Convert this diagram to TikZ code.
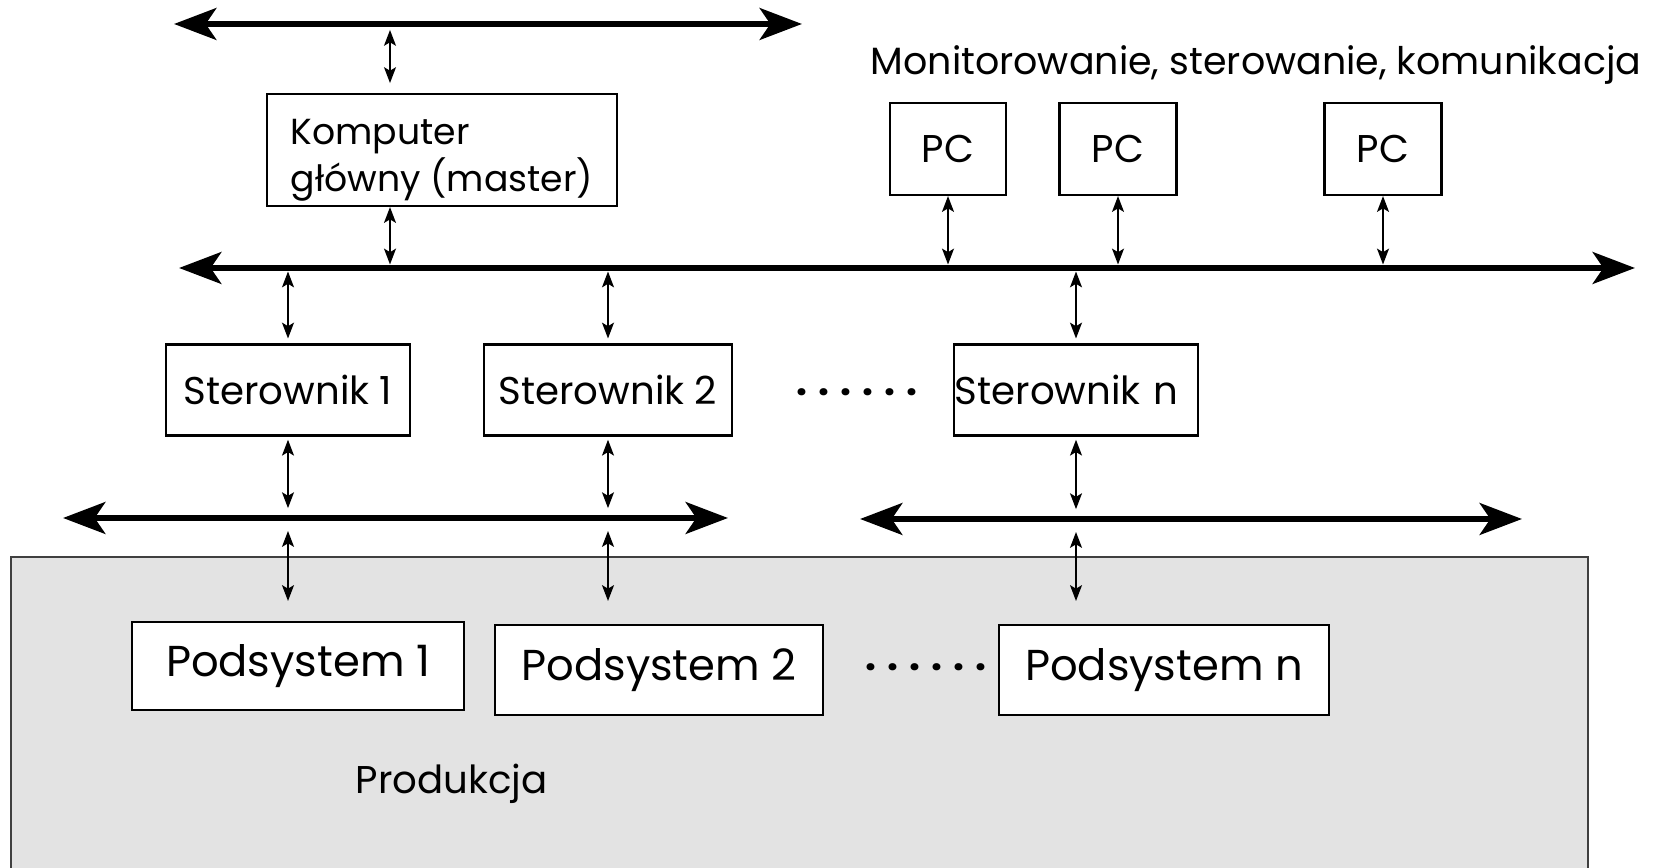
\documentclass[tikz,border=0pt]{standalone}
\usepackage{fontspec}
\setmainfont{Poppins}
\usetikzlibrary{arrows.meta}
\definecolor{prodfill}{gray}{0.89}
\begin{document}
\begin{tikzpicture}[x=0.01cm,y=-0.01cm,
  bus/.style={line width=1.8pt,
    {Stealth[length=12pt,width=9pt,inset=3pt]}-{Stealth[length=12pt,width=9pt,inset=3pt]}},
  link/.style={line width=0.5pt,
    {Stealth[length=4.5pt,width=3.4pt,inset=1pt]}-{Stealth[length=4.5pt,width=3.4pt,inset=1pt]}},
  box/.style={draw, line width=0.6pt, fill=white, inner sep=0pt,
    font=\fontsize{11}{14}\selectfont},
  subbox/.style={box, font=\fontsize{12.3}{15}\selectfont},
  label/.style={inner sep=0pt, font=\fontsize{11}{14}\selectfont}]
\useasboundingbox (0,0) rectangle (1654,868);

% production area (runs past the lower edge)
\fill[prodfill] (11,868) -- (11,557) -- (1588,557) -- (1588,868) -- cycle;
\draw[line width=0.8pt, black!75] (11,868) -- (11,557) -- (1588,557) -- (1588,868);

% buses
\coordinate (b0l) at (174,24);  \coordinate (b0r) at (802,24);
\coordinate (b1l) at (179,268); \coordinate (b1r) at (1635,268);
\coordinate (b2l) at (63,518);  \coordinate (b2r) at (728,518);
\coordinate (b3l) at (860,519); \coordinate (b3r) at (1522,519);
\draw[bus] (b0l) -- (b0r);
\draw[bus] (b1l) -- (b1r);
\draw[bus] (b2l) -- (b2r);
\draw[bus] (b3l) -- (b3r);

% master computer and PCs (the strut pushes the two lines a little down)
\node[box, minimum width=3.5cm, minimum height=1.12cm, align=left,
  font=\fontsize{10.3}{10.8}\selectfont] (kom) at (442,150)
  {\rule{0pt}{13pt}Komputer\\główny (master)};
\node[box, minimum width=1.16cm, minimum height=0.92cm] (pc1) at (948,149) {PC};
\node[box, minimum width=1.17cm, minimum height=0.92cm] (pc2) at (1118,149) {PC};
\node[box, minimum width=1.17cm, minimum height=0.92cm] (pc3) at (1383,149) {PC};
\node[label, anchor=west, font=\fontsize{10.8}{13}\selectfont] (mon) at (870,65)
  {Monitorowanie, sterowanie, komunikacja};

% controllers
\node[box, minimum width=2.44cm, minimum height=0.91cm] (s1) at (288,390) {Sterownik 1};
\node[box, minimum width=2.47cm, minimum height=0.91cm] (s2) at (608,390) {Sterownik 2};
\node[box, minimum width=2.44cm, minimum height=0.91cm, text width=2.42cm,
  inner xsep=0.01cm, align=left] (sn) at (1076,390) {Sterownik n};
\node[label, font=\fontsize{11}{14}\bfseries] (dots1) at (857,392) {. . . . . .};

% subsystems
\node[subbox, minimum width=3.32cm, minimum height=0.88cm] (p1) at (298,666) {Podsystem 1};
\node[subbox, minimum width=3.28cm, minimum height=0.90cm] (p2) at (659,670) {Podsystem 2};
\node[subbox, minimum width=3.29cm, minimum height=0.90cm] (pn) at (1164,670) {Podsystem n};
\node[label, font=\fontsize{11}{14}\bfseries] (dots2) at (926,667) {. . . . . .};
\node[label, anchor=west] (prod) at (355,784) {Produkcja};

% links between buses and stations
\coordinate (kx) at (390,0);
\coordinate (podrow) at (0,601);
\draw[link, shorten <=1.7pt, shorten >=2.8pt] (kx |- b0l) -- (kx |- kom.north);
\draw[link, shorten >=1pt] (kx |- kom.south) -- (kx |- b1l);
\foreach \p in {pc1,pc2,pc3}
  \draw[link, shorten >=1pt] (\p.south) -- (\p.south |- b1l);
\foreach \s in {s1,s2,sn}
  \draw[link, shorten <=1pt, shorten >=1.4pt] (\s.north |- b1l) -- (\s.north);
\draw[link, shorten <=0.9pt, shorten >=2.8pt] (s1.south) -- (s1.south |- b2l);
\draw[link, shorten <=0.9pt, shorten >=2.8pt] (s2.south) -- (s2.south |- b2l);
\draw[link, shorten <=0.9pt, shorten >=2.8pt] (sn.south) -- (sn.south |- b3l);
\draw[link, shorten <=3.7pt] (s1.south |- b2l) -- (s1.south |- podrow);
\draw[link, shorten <=3.7pt] (s2.south |- b2l) -- (s2.south |- podrow);
\draw[link, shorten <=3.7pt] (sn.south |- b3l) -- (sn.south |- podrow);
\end{tikzpicture}
\end{document}
